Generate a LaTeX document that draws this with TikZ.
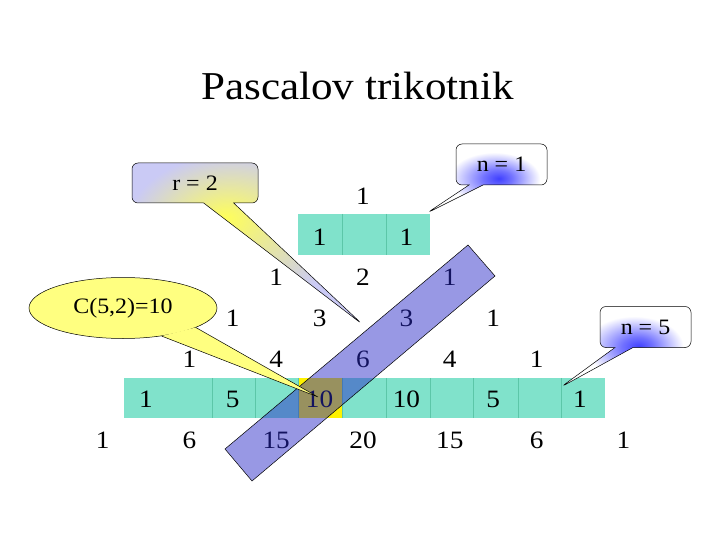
\documentclass[tikz,border=0pt]{standalone}
\usepackage{fontspec}
\setmainfont{Liberation Serif}[FakeStretch=1.09]
\usetikzlibrary{shapes.callouts,shapes.geometric}

\definecolor{rowgreen}{RGB}{128,226,203}
\definecolor{cellline}{RGB}{92,198,168}
\definecolor{bandblue}{RGB}{40,40,200}
\definecolor{callyellow}{RGB}{255,255,128}
\definecolor{lavender}{RGB}{202,202,245}
\pgfdeclareradialshading{blueglow}{\pgfpoint{5bp}{0bp}}{color(0bp)=(blue!75);
  color(6bp)=(blue!55); color(19bp)=(white); color(50bp)=(white)}
\pgfdeclareradialshading{yellowglow}{\pgfpoint{-5bp}{8bp}}{color(0bp)=(yellow!65);
  color(24bp)=(lavender); color(50bp)=(lavender)}

\begin{document}
\begin{tikzpicture}[
  x=1pt, y=-1pt,
  num/.style={font=\fontsize{25}{25}\selectfont, inner sep=0pt},
  band/.style={fill=rowgreen},
  divider/.style={draw=cellline, line width=0.6pt},
  diag/.style={fill=bandblue, fill opacity=0.48, draw=black, line width=0.5pt},
  tag/.style={rectangle callout, rounded corners=6pt, draw=black,
    line width=0.5pt, minimum width=91pt, minimum height=41pt,
    font=\fontsize{22}{22}\selectfont, shade, shading=blueglow},
  bubble/.style={ellipse, draw=black, line width=0.5pt, fill=callyellow,
    minimum width=188pt, minimum height=61pt, inner sep=0pt,
    font=\fontsize{22}{22}\selectfont},
]
  \useasboundingbox[fill=white] (0,0) rectangle (720,540);
  % Title
  \node[font=\fontsize{39.5}{40}\selectfont, anchor=base] (title)
    at (357.5,100) {Pascalov trikotnik};
  % Highlighted rows
  \fill[band] (298,214) rectangle (430,255);
  \foreach \x in {342,386} \draw[divider] (\x,214) -- (\x,255);
  \fill[band] (124,378) rectangle (605,418);
  \fill[yellow] (298,378) rectangle (342,418);
  \foreach \x in {212,255,298,342,386,430,473,518,561}
    \draw[divider] (\x,378) -- (\x,418);
  % Row 0
  \node[num] (p00) at (363,196) {1};
  % Row 1
  \node[num] (p10) at (319.6,237) {1};
  \node[num] (p11) at (406.4,237) {1};
  % Row 2
  \node[num] (p20) at (276.2,277) {1};
  \node[num] (p21) at (363,277) {2};
  \node[num] (p22) at (449.8,277) {1};
  % Row 3
  \node[num] (p30) at (232.8,318) {1};
  \node[num] (p31) at (319.6,318) {3};
  \node[num] (p32) at (406.4,318) {3};
  \node[num] (p33) at (493.2,318) {1};
  % Row 4
  \node[num] (p40) at (189.4,359) {1};
  \node[num] (p41) at (276.2,359) {4};
  \node[num] (p42) at (363,359) {6};
  \node[num] (p43) at (449.8,359) {4};
  \node[num] (p44) at (536.6,359) {1};
  % Row 5
  \node[num] (p50) at (146,399) {1};
  \node[num] (p51) at (232.8,399) {5};
  \node[num] (p52) at (319.6,399) {10};
  \node[num] (p53) at (406.4,399) {10};
  \node[num] (p54) at (493.2,399) {5};
  \node[num] (p55) at (580,399) {1};
  % Row 6
  \node[num] (p60) at (102.6,440) {1};
  \node[num] (p61) at (189.4,440) {6};
  \node[num] (p62) at (276.2,440) {15};
  \node[num] (p63) at (363,440) {20};
  \node[num] (p64) at (449.8,440) {15};
  \node[num] (p65) at (536.6,440) {6};
  \node[num] (p66) at (623.4,440) {1};
  % Diagonal r = 2
  \draw[diag] (225,449) -- (468,245) -- (495,276) -- (252,481) -- cycle;
  % Callouts
  \coordinate (rtip) at (362,324);
  \coordinate (ntip) at (427,213);
  \coordinate (ftip) at (561,387);
  \coordinate (ctip) at (318,397);
  \node[tag, minimum width=126pt, minimum height=40pt,
    shading=yellowglow, callout pointer width=30pt,
    callout absolute pointer=(rtip)] (rlabel) at (195,183) {r = 2};
  \node[tag, callout pointer width=14pt,
    callout absolute pointer=(ntip)] (nlabel) at (501.5,164.5) {n = 1};
  \node[tag, callout pointer width=18pt,
    callout absolute pointer=(ftip)] (flabel) at (645.5,327) {n = 5};
  \node[bubble] (clabel) at (123,308) {C(5,2)=10};
  \fill[callyellow] (clabel.-36) -- (ctip) -- (clabel.-15) -- cycle;
  \draw[line width=0.5pt] (clabel.-36) -- (ctip) -- (clabel.-15);
\end{tikzpicture}
\end{document}
